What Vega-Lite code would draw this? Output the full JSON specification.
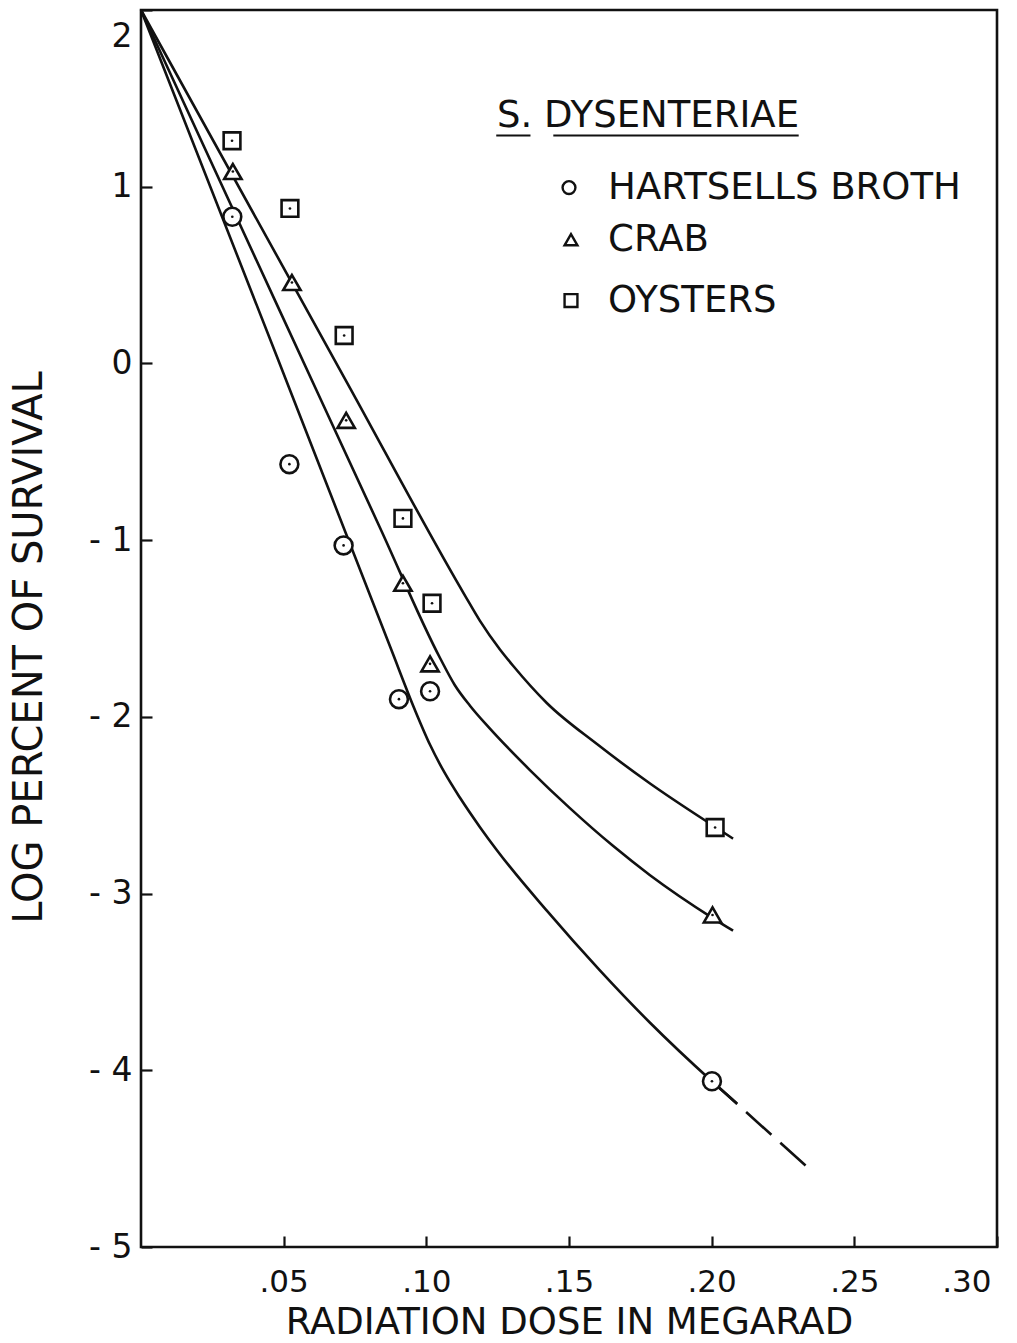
{
  "$schema": "https://vega.github.io/schema/vega-lite/v6.json",
  "autosize": "none",
  "width": 856,
  "height": 1237,
  "padding": {"left": 141, "top": 10, "right": 20, "bottom": 96},
  "background": "white",
  "config": {
    "view": {"stroke": "#111", "strokeWidth": 2.6},
    "font": "DejaVu Sans",
    "text": {"font": "DejaVu Sans", "color": "#111"}
  },
  "datasets": {
    "curves": [
      {"medium": "HARTSELLS BROTH", "dose": 0.0, "logsurv": 2.0},
      {"medium": "HARTSELLS BROTH", "dose": 0.0481, "logsurv": 0.019},
      {"medium": "HARTSELLS BROTH", "dose": 0.0876, "logsurv": -1.615},
      {"medium": "HARTSELLS BROTH", "dose": 0.0960, "logsurv": -1.961},
      {"medium": "HARTSELLS BROTH", "dose": 0.1013, "logsurv": -2.158},
      {"medium": "HARTSELLS BROTH", "dose": 0.1065, "logsurv": -2.319},
      {"medium": "HARTSELLS BROTH", "dose": 0.1118, "logsurv": -2.458},
      {"medium": "HARTSELLS BROTH", "dose": 0.1188, "logsurv": -2.624},
      {"medium": "HARTSELLS BROTH", "dose": 0.1248, "logsurv": -2.756},
      {"medium": "HARTSELLS BROTH", "dose": 0.1423, "logsurv": -3.098},
      {"medium": "HARTSELLS BROTH", "dose": 0.1609, "logsurv": -3.436},
      {"medium": "HARTSELLS BROTH", "dose": 0.1784, "logsurv": -3.731},
      {"medium": "HARTSELLS BROTH", "dose": 0.2001, "logsurv": -4.062},
      {"medium": "HARTSELLS BROTH", "dose": 0.2089, "logsurv": -4.188},

      {"medium": "CRAB", "dose": 0.0, "logsurv": 2.0},
      {"medium": "CRAB", "dose": 0.0480, "logsurv": 0.320},
      {"medium": "CRAB", "dose": 0.0838, "logsurv": -0.931},
      {"medium": "CRAB", "dose": 0.1048, "logsurv": -1.667},
      {"medium": "CRAB", "dose": 0.1100, "logsurv": -1.821},
      {"medium": "CRAB", "dose": 0.1153, "logsurv": -1.937},
      {"medium": "CRAB", "dose": 0.1223, "logsurv": -2.067},
      {"medium": "CRAB", "dose": 0.1363, "logsurv": -2.301},
      {"medium": "CRAB", "dose": 0.1504, "logsurv": -2.518},
      {"medium": "CRAB", "dose": 0.1654, "logsurv": -2.730},
      {"medium": "CRAB", "dose": 0.1784, "logsurv": -2.896},
      {"medium": "CRAB", "dose": 0.2005, "logsurv": -3.140},
      {"medium": "CRAB", "dose": 0.2075, "logsurv": -3.210},

      {"medium": "OYSTERS", "dose": 0.0, "logsurv": 2.0},
      {"medium": "OYSTERS", "dose": 0.0722, "logsurv": -0.108},
      {"medium": "OYSTERS", "dose": 0.1136, "logsurv": -1.315},
      {"medium": "OYSTERS", "dose": 0.1188, "logsurv": -1.457},
      {"medium": "OYSTERS", "dose": 0.1258, "logsurv": -1.619},
      {"medium": "OYSTERS", "dose": 0.1304, "logsurv": -1.711},
      {"medium": "OYSTERS", "dose": 0.1423, "logsurv": -1.923},
      {"medium": "OYSTERS", "dose": 0.1598, "logsurv": -2.154},
      {"medium": "OYSTERS", "dose": 0.1784, "logsurv": -2.377},
      {"medium": "OYSTERS", "dose": 0.2015, "logsurv": -2.626},
      {"medium": "OYSTERS", "dose": 0.2075, "logsurv": -2.689}
    ],
    "extrapolated": [
      {"dose": 0.2001, "logsurv": -4.062},
      {"dose": 0.2331, "logsurv": -4.542}
    ],
    "observed": [
      {"medium": "HARTSELLS BROTH", "dose": 0.032, "logsurv": 0.83},
      {"medium": "HARTSELLS BROTH", "dose": 0.052, "logsurv": -0.57},
      {"medium": "HARTSELLS BROTH", "dose": 0.071, "logsurv": -1.03},
      {"medium": "HARTSELLS BROTH", "dose": 0.0904, "logsurv": -1.9},
      {"medium": "HARTSELLS BROTH", "dose": 0.1013, "logsurv": -1.855},
      {"medium": "HARTSELLS BROTH", "dose": 0.2001, "logsurv": -4.062},
      {"medium": "CRAB", "dose": 0.0322, "logsurv": 1.086},
      {"medium": "CRAB", "dose": 0.0529, "logsurv": 0.458},
      {"medium": "CRAB", "dose": 0.0719, "logsurv": -0.322},
      {"medium": "CRAB", "dose": 0.0918, "logsurv": -1.244},
      {"medium": "CRAB", "dose": 0.1013, "logsurv": -1.7},
      {"medium": "CRAB", "dose": 0.2003, "logsurv": -3.121},
      {"medium": "OYSTERS", "dose": 0.0319, "logsurv": 1.26},
      {"medium": "OYSTERS", "dose": 0.0522, "logsurv": 0.877},
      {"medium": "OYSTERS", "dose": 0.0712, "logsurv": 0.158},
      {"medium": "OYSTERS", "dose": 0.0918, "logsurv": -0.877},
      {"medium": "OYSTERS", "dose": 0.102, "logsurv": -1.357},
      {"medium": "OYSTERS", "dose": 0.2012, "logsurv": -2.626}
    ],
    "key": [
      {"medium": "HARTSELLS BROTH", "dose": 0.150, "logsurv": 0.995, "tx": 0.1637},
      {"medium": "CRAB", "dose": 0.1507, "logsurv": 0.70, "tx": 0.1637},
      {"medium": "OYSTERS", "dose": 0.1507, "logsurv": 0.356, "tx": 0.1637}
    ],
    "heading": [
      {"label": "S. DYSENTERIAE", "dose": 0.1248, "logsurv": 1.40}
    ],
    "underline": [
      {"dose": 0.1245, "dose2": 0.1365, "logsurv": 1.29},
      {"dose": 0.1445, "dose2": 0.2305, "logsurv": 1.29}
    ]
  },
  "encoding": {
    "x": {
      "field": "dose", "type": "quantitative",
      "scale": {"domain": [0, 0.3], "nice": false, "zero": false},
      "axis": {
        "values": [0.05, 0.1, 0.15, 0.2, 0.25, 0.3],
        "labelExpr": "replace(format(datum.value, '.2f'), '0.', '.')",
        "title": "RADIATION DOSE IN MEGARAD",
        "domain": false, "grid": false,
        "tickSize": -11, "tickWidth": 2.2, "tickColor": "#111",
        "labelFont": "DejaVu Sans", "labelFontSize": 31, "labelColor": "#111",
        "labelPadding": 55, "labelBaseline": "alphabetic",
        "labelFlush": true, "labelFlushOffset": -6,
        "titleFont": "DejaVu Sans", "titleFontSize": 37, "titleFontWeight": "normal", "titleColor": "#111",
        "titleBaseline": "alphabetic", "titleX": 428, "titleY": 86
      }
    },
    "y": {
      "field": "logsurv", "type": "quantitative",
      "scale": {"domain": [-5, 2], "nice": false, "zero": false},
      "axis": {
        "values": [2, 1, 0, -1, -2, -3, -4, -5],
        "labelExpr": "datum.value < 0 ? '- ' + abs(datum.value) : '' + datum.value",
        "title": "LOG PERCENT OF SURVIVAL",
        "domain": false, "grid": false,
        "tickSize": -11, "tickWidth": 2.2, "tickColor": "#111",
        "labelFont": "DejaVu Sans", "labelFontSize": 33, "labelColor": "#111",
        "labelPadding": 20, "labelBaseline": "middle", "labelFlush": false,
        "labelOffset": {"condition": {"test": "datum.value == 2", "value": 26}, "value": 0},
        "titleFont": "DejaVu Sans", "titleFontSize": 40, "titleFontWeight": "normal", "titleColor": "#111",
        "titleAngle": -90, "titleBaseline": "alphabetic", "titleAlign": "center",
        "titleX": -100, "titleY": 637
      }
    }
  },
  "layer": [
    {
      "data": {"name": "curves"},
      "mark": {"type": "line", "interpolate": "monotone", "stroke": "#111", "strokeWidth": 2.6},
      "encoding": {"detail": {"field": "medium"}}
    },
    {
      "data": {"name": "extrapolated"},
      "mark": {"type": "line", "stroke": "#111", "strokeWidth": 2.6, "strokeDash": [34, 12]},
      "encoding": {}
    },
    {
      "data": {"name": "observed"},
      "mark": {"type": "point", "filled": false, "fill": "white", "fillOpacity": 1, "stroke": "#111", "strokeWidth": 2.6, "opacity": 1},
      "encoding": {
        "shape": {"field": "medium", "type": "nominal", "legend": null,
          "scale": {"domain": ["HARTSELLS BROTH", "CRAB", "OYSTERS"], "range": ["circle", "triangle-up", "square"]}},
        "size": {"field": "medium", "type": "nominal", "legend": null,
          "scale": {"domain": ["HARTSELLS BROTH", "CRAB", "OYSTERS"], "range": [320, 280, 320]}}
      }
    },
    {
      "data": {"name": "observed"},
      "mark": {"type": "point", "shape": "circle", "filled": true, "color": "#111", "size": 7, "opacity": 1}
    },
    {
      "data": {"name": "key"},
      "mark": {"type": "point", "filled": false, "fill": "white", "fillOpacity": 1, "stroke": "#111", "strokeWidth": 2.4, "opacity": 1},
      "encoding": {
        "shape": {"field": "medium", "type": "nominal", "legend": null,
          "scale": {"domain": ["HARTSELLS BROTH", "CRAB", "OYSTERS"], "range": ["circle", "triangle-up", "square"]}},
        "size": {"value": 165}
      }
    },
    {
      "data": {"name": "key"},
      "mark": {"type": "text", "align": "left", "baseline": "middle", "fontSize": 37, "color": "#111"},
      "encoding": {
        "x": {"field": "tx", "type": "quantitative"},
        "text": {"field": "medium"}
      }
    },
    {
      "data": {"name": "heading"},
      "mark": {"type": "text", "align": "left", "baseline": "middle", "fontSize": 37, "color": "#111"},
      "encoding": {"text": {"field": "label"}}
    },
    {
      "data": {"name": "underline"},
      "mark": {"type": "rule", "stroke": "#111", "strokeWidth": 2},
      "encoding": {"x2": {"field": "dose2"}}
    }
  ]
}
